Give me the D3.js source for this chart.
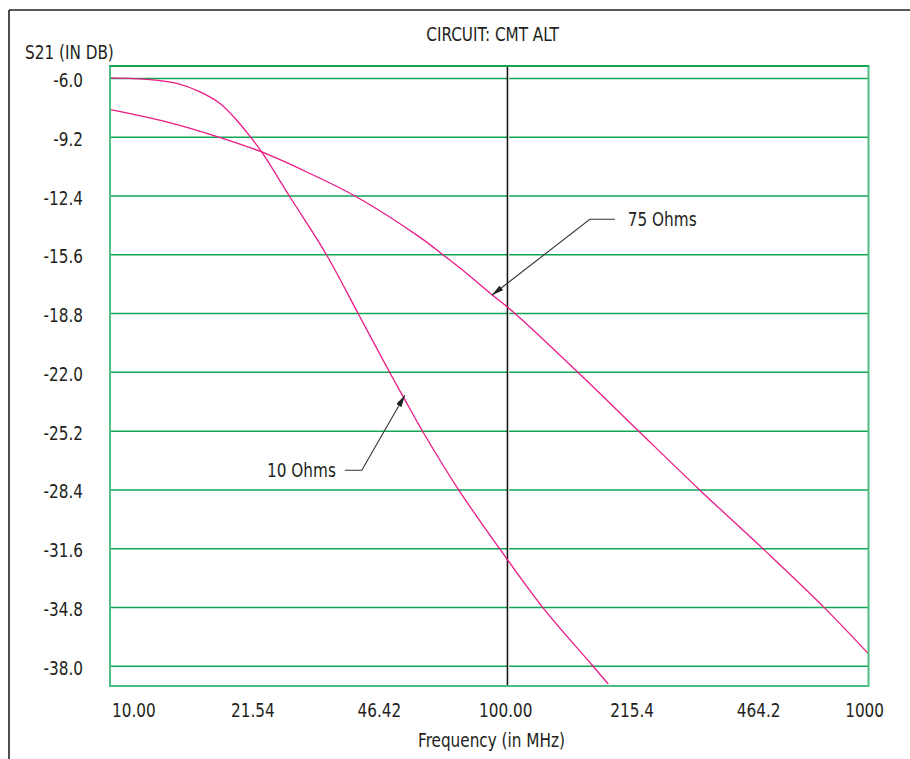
<!DOCTYPE html>
<html>
<head>
<meta charset="utf-8">
<script src="https://cdn.jsdelivr.net/npm/d3@7"></script>
<style>
  html, body { margin: 0; padding: 0; background: #fff; }
  svg { display: block; }
  text { font-family: "Liberation Sans Narrow", "Arial Narrow", "DejaVu Sans Condensed", "Liberation Sans", sans-serif; fill: #231f20; }
</style>
</head>
<body>
<svg id="chart" width="910" height="759"></svg>
<script>
// ---------- data ----------
const title = "CIRCUIT: CMT ALT";
const yAxisTitle = "S21 (IN DB)";
const xAxisTitle = "Frequency (in MHz)";

const xTickValues = [10, 21.54, 46.42, 100, 215.4, 464.2, 1000];
const xTickLabels = ["10.00", "21.54", "46.42", "100.00", "215.4", "464.2", "1000"];
const yTickValues = [-6.0, -9.2, -12.4, -15.6, -18.8, -22.0, -25.2, -28.4, -31.6, -34.8, -38.0];
const yTickLabels = ["-6.0", "-9.2", "-12.4", "-15.6", "-18.8", "-22.0", "-25.2", "-28.4", "-31.6", "-34.8", "-38.0"];

const xDomain = [10, 1000];
const yDomain = [-5.35, -39.1];

// 10 Ohms series (frequency MHz, S21 dB)
const freq10 = [10, 12.75, 14.99, 17.27, 19.50, 21.59, 23.64, 25.12, 29.83, 37.28, 45.1, 54.97, 59.34, 67.0, 83.4, 106.7, 138.3, 187.4, 206.0];
const s21_10 = [-6.0, -6.09, -6.30, -6.76, -7.39, -8.30, -9.30, -10.03, -12.48, -15.65, -18.82, -22.13, -23.36, -25.30, -28.48, -31.65, -34.82, -38.0, -38.99];

// 75 Ohms series
const freq75 = [10, 14.11, 19.90, 25.12, 33.02, 44.73, 65.7, 75.7, 87.2, 102.1, 116.9, 173.5, 249.8, 361.1, 528, 763.3, 1000];
const s21_75 = [-7.72, -8.39, -9.30, -10.03, -11.12, -12.48, -14.68, -15.65, -16.64, -17.83, -18.82, -22.13, -25.30, -28.48, -31.65, -34.82, -37.35];

// vertical marker frequency
const markerFreq = 111.6;

// annotations: label, arrow tip (freq, dB)
const annoLabels = ["75 Ohms", "10 Ohms"];
const annoFreq = [101.6, 59.9];
const annoDb = [-17.83, -23.27];

// ---------- drawing ----------
const svg = d3.select("#chart");
const plot = { left: 110, right: 868.5, top: 66, bottom: 686 };

const x = d3.scaleLog().domain(xDomain).range([plot.left, plot.right]);
const y = d3.scaleLinear().domain(yDomain).range([plot.top, plot.bottom]);

const GREEN = "#12a554";
const BORDER = "#4dbf80";
const MAGENTA = "#ea1a85";
const FS = 19.5;
const SX = 0.87; // horizontal condensing of the text

function addText(px, py, str, anchor) {
  return svg.append("text")
    .attr("transform", `translate(${px},${py}) scale(${SX},1)`)
    .attr("text-anchor", anchor || "start")
    .style("font-size", FS + "px").text(str);
}

// outer frame (top and left)
svg.append("line").attr("x1", 9).attr("x2", 910).attr("y1", 10).attr("y2", 10)
  .attr("stroke", "#222").attr("stroke-width", 1.6);
svg.append("line").attr("x1", 9).attr("x2", 9).attr("y1", 10).attr("y2", 759)
  .attr("stroke", "#222").attr("stroke-width", 1.6);

// gridlines via axis
const yGrid = d3.axisLeft(y).tickValues(yTickValues)
  .tickSize(-(plot.right - plot.left)).tickFormat("");
const gGrid = svg.append("g").attr("transform", `translate(${plot.left},0)`).call(yGrid);
gGrid.select(".domain").remove();
gGrid.selectAll(".tick line").attr("stroke", GREEN).attr("stroke-width", 1.5);

// y tick labels
const yLab = d3.axisLeft(y).tickValues(yTickValues).tickSize(0)
  .tickFormat((d, i) => yTickLabels[i]);
const gY = svg.append("g").attr("transform", `translate(83,0)`).call(yLab);
gY.select(".domain").remove();
gY.attr("font-family", null).attr("font-size", null);
gY.selectAll(".tick text").attr("x", null).attr("y", null).attr("dy", null)
  .attr("transform", `translate(0,8.5) scale(${SX},1)`)
  .attr("text-anchor", "end")
  .style("font-size", FS + "px").attr("fill", "#231f20");

// x tick labels
const xLab = d3.axisBottom(x).tickValues(xTickValues).tickSize(0)
  .tickFormat((d, i) => xTickLabels[i]);
const gX = svg.append("g").attr("transform", `translate(0,717)`).call(xLab);
gX.select(".domain").remove();
gX.attr("font-family", null).attr("font-size", null);
const nX = xTickValues.length;
gX.selectAll(".tick text")
  .attr("x", null).attr("y", null).attr("dy", null)
  .style("font-size", FS + "px").attr("fill", "#231f20")
  .attr("text-anchor", (d, i) => i === 0 ? "start" : (i === nX - 1 ? "end" : "middle"))
  .attr("transform", (d, i) => `translate(${i === 0 ? 1.5 : (i === nX - 1 ? 15 : 16)},0) scale(${SX},1)`);

// clip
svg.append("clipPath").attr("id", "clip").append("rect")
  .attr("x", plot.left).attr("y", plot.top)
  .attr("width", plot.right - plot.left).attr("height", plot.bottom - plot.top);

// vertical marker
svg.append("line")
  .attr("x1", x(markerFreq) + 1.2).attr("x2", x(markerFreq) + 1.2)
  .attr("y1", plot.top).attr("y2", plot.bottom)
  .attr("stroke", "#ccc").attr("stroke-width", 1.2);
svg.append("line")
  .attr("x1", x(markerFreq)).attr("x2", x(markerFreq))
  .attr("y1", plot.top).attr("y2", plot.bottom)
  .attr("stroke", "#111").attr("stroke-width", 1.3);

// curves
const line = d3.line().x(d => x(d[0])).y(d => y(d[1])).curve(d3.curveCatmullRom.alpha(0.5));
const series = [
  d3.zip(freq10, s21_10),
  d3.zip(freq75, s21_75)
];
svg.append("g").attr("clip-path", "url(#clip)")
  .selectAll("path").data(series).join("path")
  .attr("d", line).attr("fill", "none")
  .attr("stroke", MAGENTA).attr("stroke-width", 1.3);

// plot border
svg.append("rect")
  .attr("x", plot.left).attr("y", plot.top)
  .attr("width", plot.right - plot.left).attr("height", plot.bottom - plot.top)
  .attr("fill", "none").attr("stroke", BORDER).attr("stroke-width", 2);
svg.append("line").attr("x1", plot.left).attr("x2", plot.right)
  .attr("y1", plot.top).attr("y2", plot.top).attr("stroke", GREEN).attr("stroke-width", 1.8);

// arrow marker
const defs = svg.append("defs");
defs.append("marker").attr("id", "arrow")
  .attr("viewBox", "0 0 12 6").attr("refX", 12).attr("refY", 3)
  .attr("markerWidth", 12).attr("markerHeight", 6)
  .attr("markerUnits", "userSpaceOnUse").attr("orient", "auto")
  .append("path").attr("d", "M0,0 L12,3 L0,6 Z").attr("fill", "#222");

// annotations
{
  const tx = x(annoFreq[0]), ty = y(annoDb[0]);
  const lx = tx + 98, ly = ty - 76;
  svg.append("path")
    .attr("d", `M${lx + 25},${ly} L${lx},${ly} L${tx},${ty}`)
    .attr("fill", "none").attr("stroke", "#333").attr("stroke-width", 1.1)
    .attr("marker-end", "url(#arrow)");
  addText(lx + 38, ly + 6.5, annoLabels[0], "start");
}
{
  const tx = x(annoFreq[1]), ty = y(annoDb[1]);
  const lx = tx - 43, ly = ty + 75;
  svg.append("path")
    .attr("d", `M${lx - 17},${ly} L${lx},${ly} L${tx},${ty}`)
    .attr("fill", "none").attr("stroke", "#333").attr("stroke-width", 1.1)
    .attr("marker-end", "url(#arrow)");
  addText(lx - 26, ly + 6.5, annoLabels[1], "end");
}

// titles
addText(492.5, 41, title, "middle");
addText(25, 59, yAxisTitle, "start");
addText(491.5, 747, xAxisTitle, "middle");
</script>
</body>
</html>
